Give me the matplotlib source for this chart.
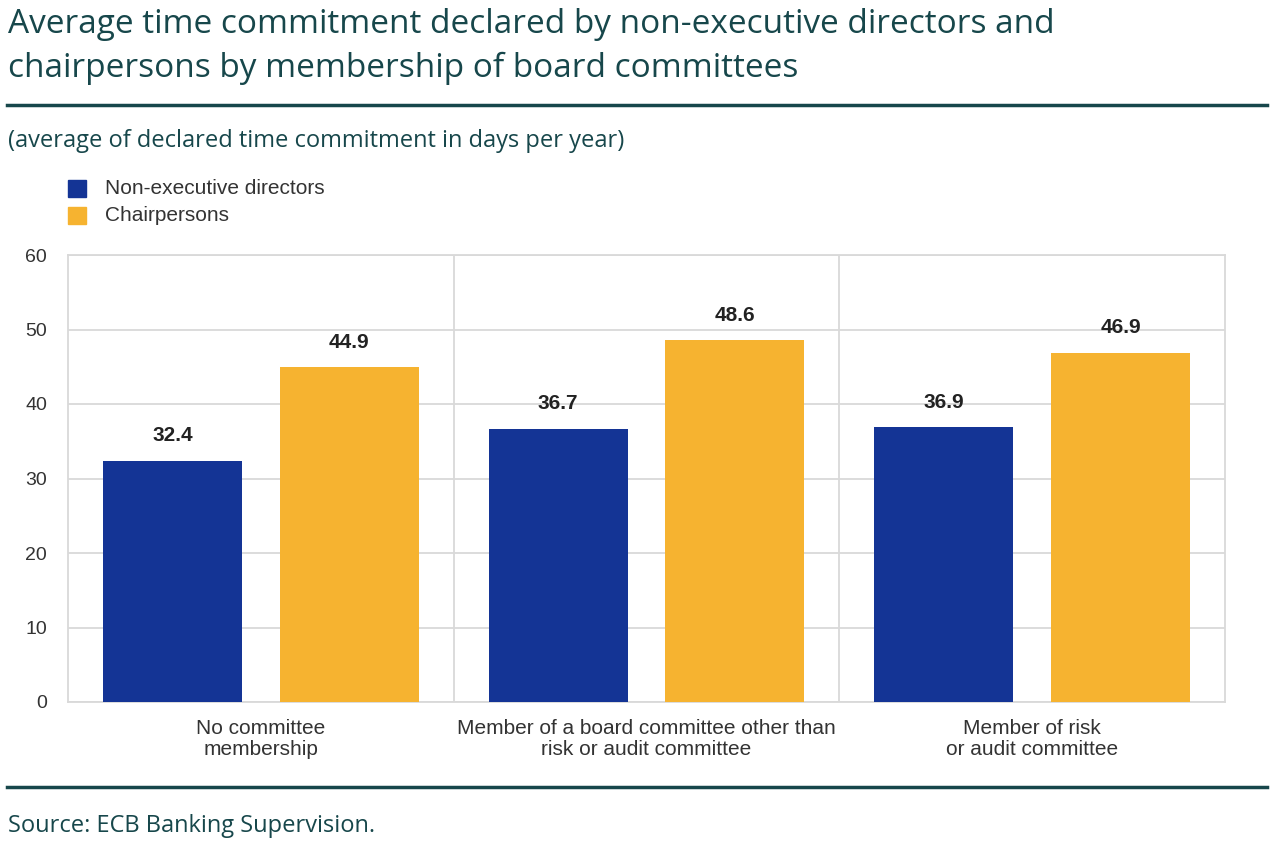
import matplotlib
matplotlib.use("Agg")
import matplotlib.pyplot as plt
import numpy as np
from matplotlib.patches import Rectangle
from matplotlib.lines import Line2D

categories = ["No committee\nmembership",
              "Member of a board committee other than\nrisk or audit committee",
              "Member of risk\nor audit committee"]
series_names = ["Non-executive directors", "Chairpersons"]
ned_values = [32.4, 36.7, 36.9]
chair_values = [44.9, 48.6, 46.9]
yticks = [0, 10, 20, 30, 40, 50, 60]

title_lines = ["Average time commitment declared by non-executive directors and",
               "chairpersons by membership of board committees"]
subtitle = "(average of declared time commitment in days per year)"
source = "Source: ECB Banking Supervision."

BLUE = "#143495"
YELLOW = "#f6b330"
TEAL = "#17474b"
TXT = "#333333"
GRID = "#d9d9d9"

fig = plt.figure(figsize=(12.75, 8.5), dpi=100)
W, H = 1275, 850
def fx(px): return px / W
def fy(py): return 1 - py / H

ax = fig.add_axes([fx(68), fy(702), fx(1225) - fx(68), fy(255) - fy(702)])

x = np.arange(len(categories))
bw = 0.361
off = 0.229
ax.bar(x - off, ned_values, bw, color=BLUE, zorder=3)
ax.bar(x + off, chair_values, bw, color=YELLOW, zorder=3)

for xs, vals in [(x - off, ned_values), (x + off, chair_values)]:
    for xi, v in zip(xs, vals):
        ax.annotate(f"{v:.1f}", (xi, v), xytext=(0, 11), textcoords="offset points",
                    ha="center", va="bottom", fontsize=15, fontweight="bold",
                    color="#222222", family="Liberation Sans")

ax.set_xlim(-0.5, len(categories) - 0.5)
ax.set_ylim(0, 60)
ax.set_yticks(yticks)
ax.set_yticklabels([str(t) for t in yticks], fontsize=14, color=TXT, family="Liberation Sans")
ax.set_xticks(x)
ax.set_xticklabels(categories, fontsize=15, color=TXT, family="Liberation Sans", linespacing=1.15)
ax.tick_params(axis="both", length=0)
ax.tick_params(axis="y", pad=15)
ax.tick_params(axis="x", pad=12)
ax.grid(axis="y", color=GRID, linewidth=1.3, zorder=0)
for b in [0.5, 1.5]:
    ax.axvline(b, color=GRID, linewidth=1.3, zorder=0)
for s in ax.spines.values():
    s.set_color(GRID)
    s.set_linewidth(1.3)

# Title, subtitle, source
for i, line in enumerate(title_lines):
    fig.text(fx(8), fy(33 + 44 * i), line, ha="left", va="baseline", fontsize=24,
             color=TEAL, family="Open Sans")
fig.add_artist(Line2D([fx(7), fx(1267)], [fy(105), fy(105)], color=TEAL, linewidth=2.5))
fig.text(fx(8), fy(141), subtitle, ha="left", va="center", fontsize=17, color=TEAL,
         family="Open Sans")
fig.add_artist(Line2D([fx(7), fx(1267)], [fy(787), fy(787)], color=TEAL, linewidth=2.5))
fig.text(fx(8), fy(826), source, ha="left", va="center", fontsize=17, color=TEAL,
         family="Open Sans")

# Legend
for i, (name, col) in enumerate(zip(series_names, [BLUE, YELLOW])):
    yc = 188.5 + i * 27
    fig.add_artist(Rectangle((fx(68), fy(yc + 8.5)), fx(86) - fx(68), fy(yc - 8.5) - fy(yc + 8.5),
                             color=col, transform=fig.transFigure))
    fig.text(fx(105), fy(yc), name, ha="left", va="center", fontsize=15, color=TXT,
             family="Liberation Sans")

fig.savefig("out.png", dpi=100)
